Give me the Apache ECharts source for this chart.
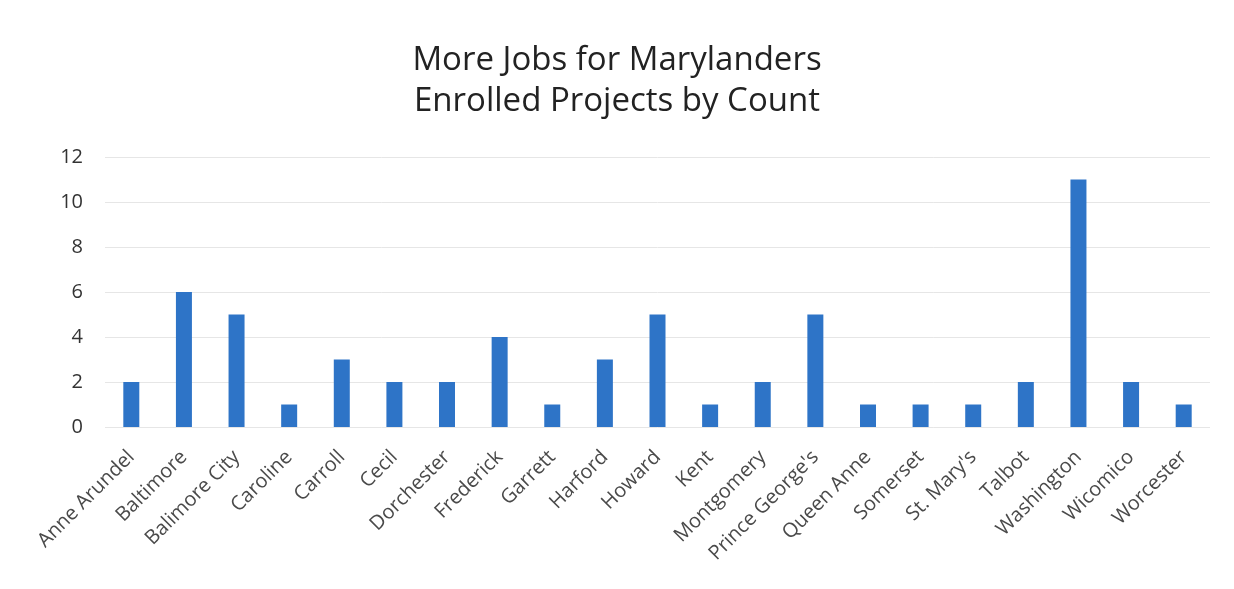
<!DOCTYPE html>
<html><head><meta charset="utf-8">
<script src="https://cdn.jsdelivr.net/npm/echarts@6/dist/echarts.min.js"></script>
<style>html,body{margin:0;padding:0;background:#fff}#c{width:1234px;height:589px}</style>
</head><body><div id="c"></div>
<script>
const categories = ["Anne Arundel","Baltimore","Balimore City","Caroline","Carroll","Cecil","Dorchester","Frederick","Garrett","Harford","Howard","Kent","Montgomery","Prince George's","Queen Anne","Somerset","St. Mary's","Talbot","Washington","Wicomico","Worcester"];
const counts = [2,6,5,1,3,2,2,4,1,3,5,1,2,5,1,1,1,2,11,2,1];
const titleLines = ["More Jobs for Marylanders","Enrolled Projects by Count"];

const chart = echarts.init(document.getElementById('c'));
chart.setOption({
  backgroundColor:'#fff',
  animation:false,
  title:{text:titleLines.join('\n'),left:'center',top:35,
    textStyle:{fontFamily:'Open Sans',fontWeight:'normal',fontSize:33,color:'#222',lineHeight:41}},
  grid:{left:105,right:24,top:157,bottom:162},
  xAxis:{type:'category',data:categories,
    axisLine:{show:false},axisTick:{show:false},
    axisLabel:{rotate:45,interval:0,margin:27,fontFamily:'Open Sans',fontSize:20,color:'#4a4a4a'}},
  yAxis:{type:'value',min:0,max:12,interval:2,
    axisLine:{show:false},axisTick:{show:false},
    splitLine:{lineStyle:{color:'#e6e6e6',width:1}},
    axisLabel:{margin:22,fontFamily:'Open Sans',fontSize:20,color:'#333'}},
  series:[{type:'bar',data:counts,barWidth:16,itemStyle:{color:'#2e74c7'}}]
});
</script></body></html>
